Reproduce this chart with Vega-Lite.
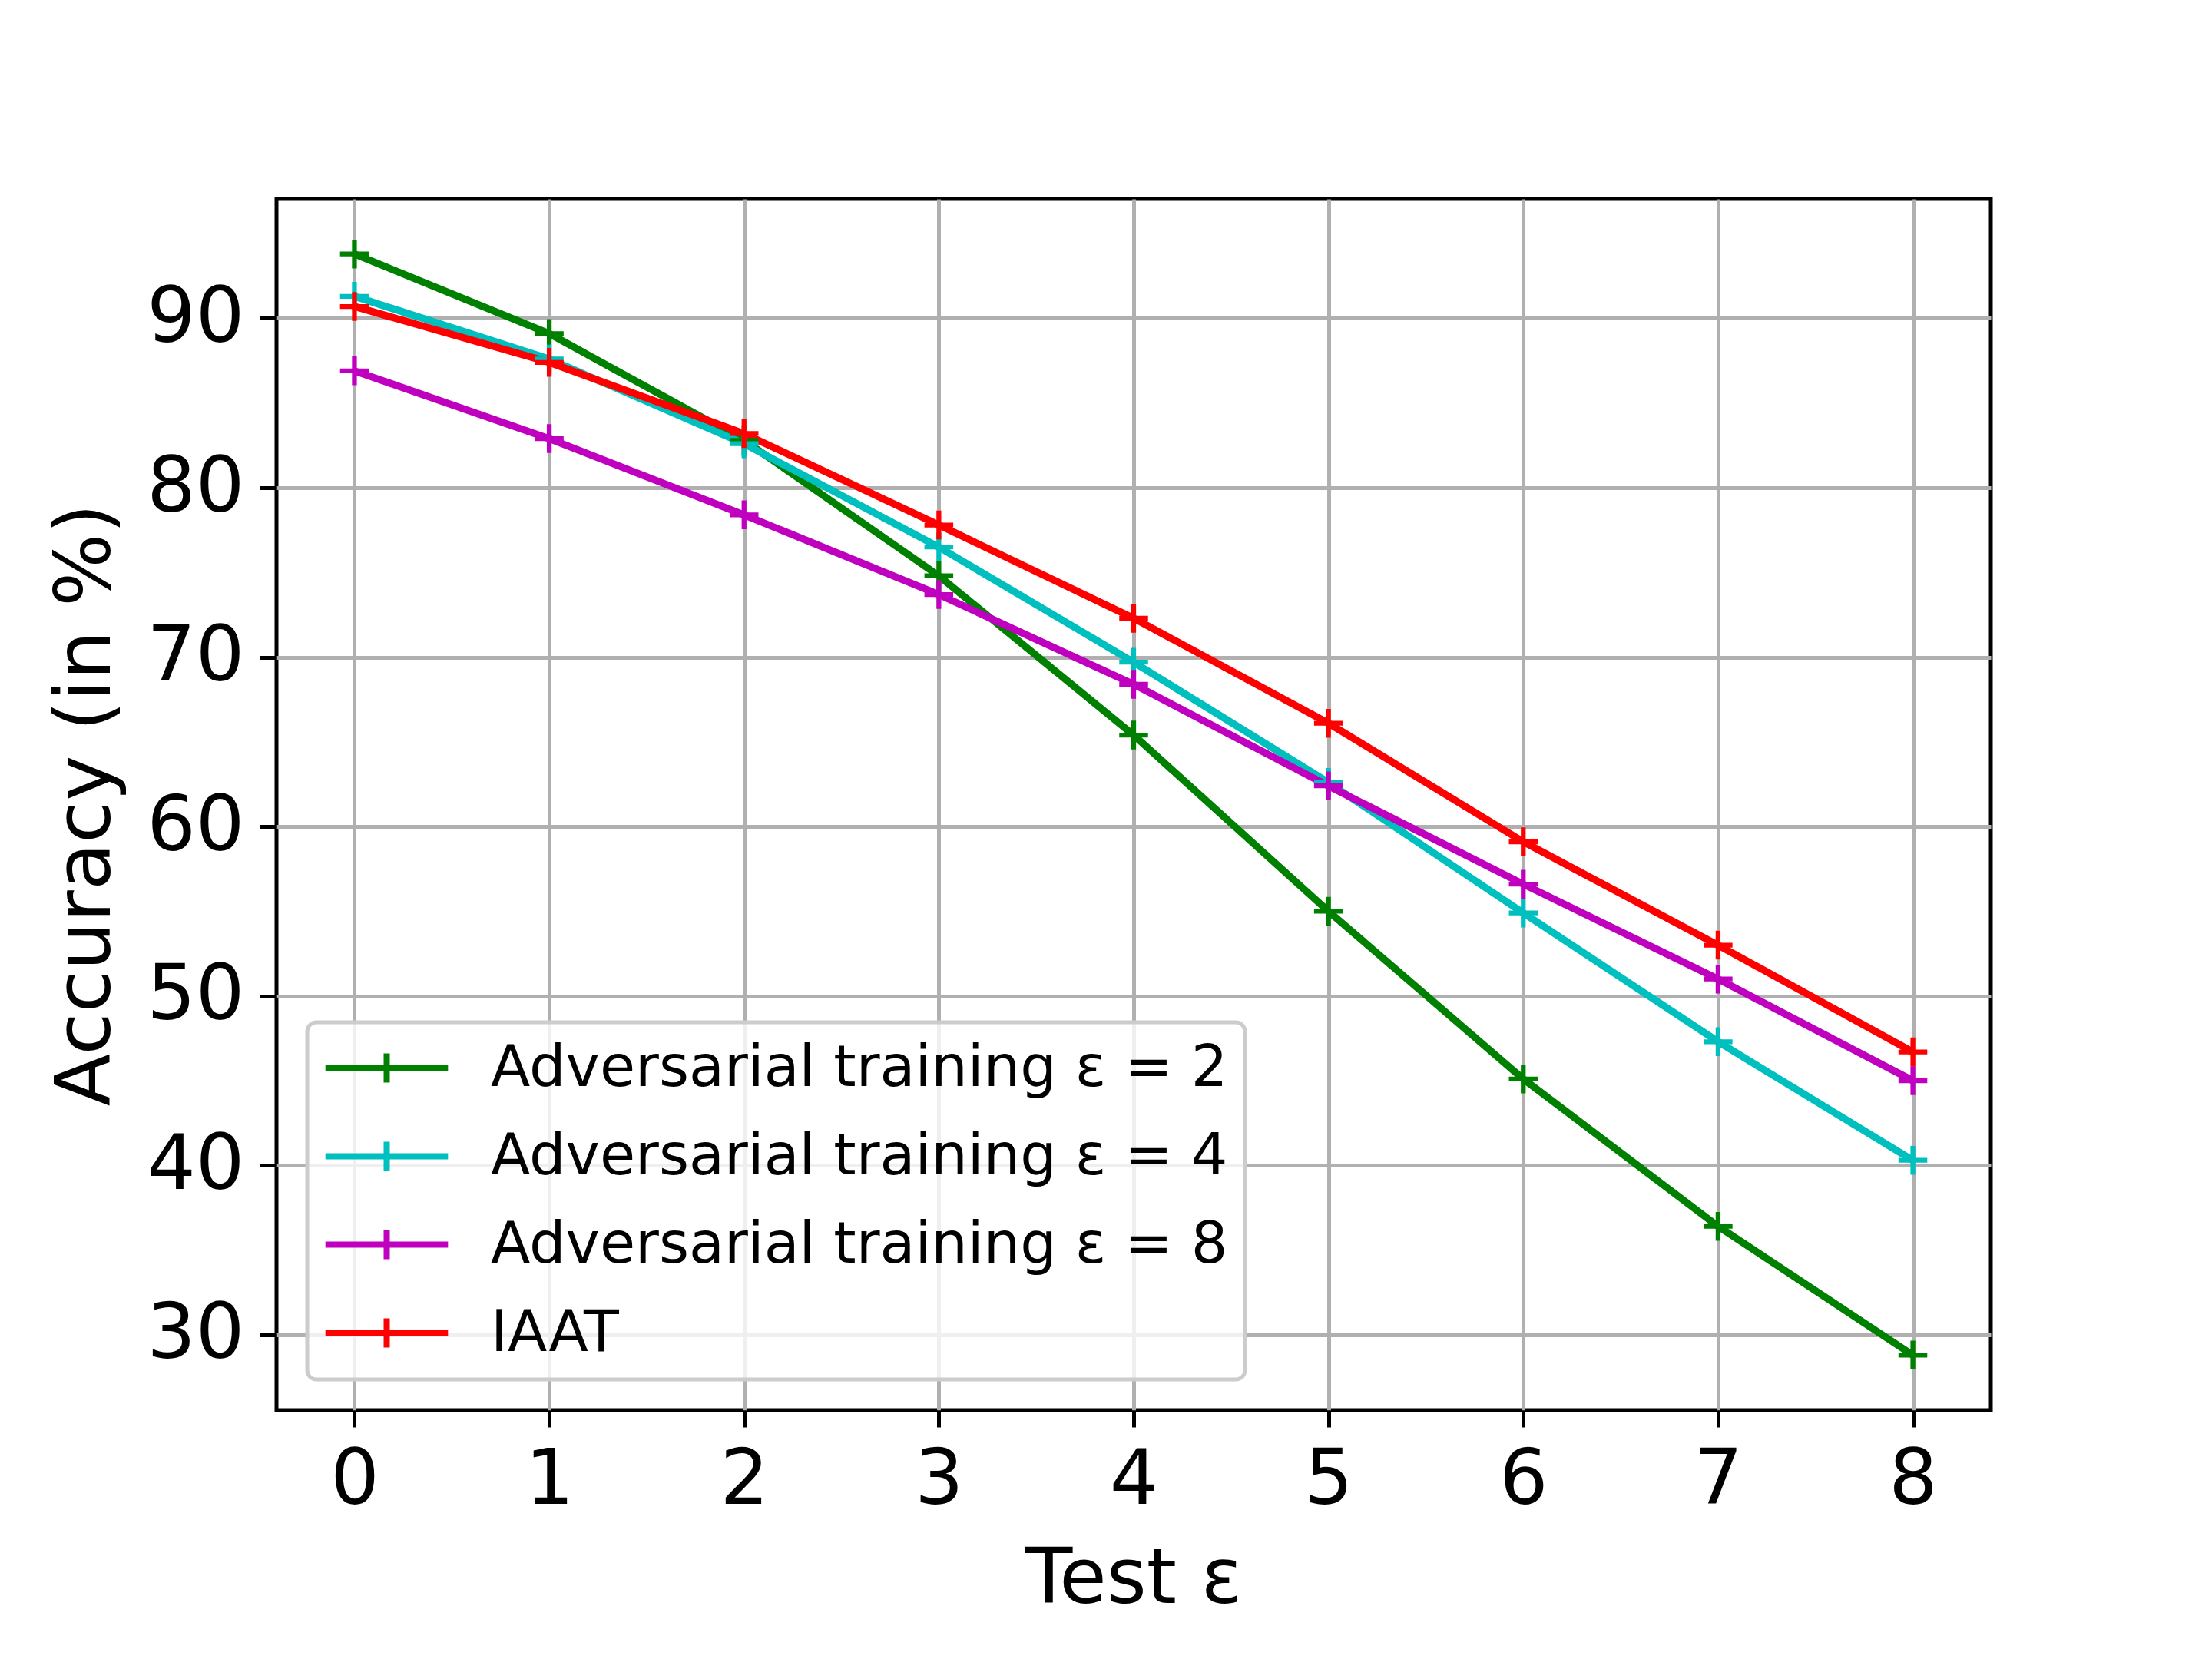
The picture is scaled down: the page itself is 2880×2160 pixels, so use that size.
{
  "$schema": "https://vega.github.io/schema/vega-lite/v6.json",
  "autosize": {"type": "none"},
  "padding": {"left": 360, "top": 259, "right": 288, "bottom": 324},
  "width": 2232,
  "height": 1577,
  "background": "white",
  "config": {
    "font": "DejaVu Sans",
    "view": {"stroke": "black", "strokeWidth": 5},
    "axis": {
      "domain": false,
      "grid": true,
      "gridColor": "#b0b0b0",
      "gridWidth": 5,
      "gridOpacity": 1,
      "ticks": true,
      "tickColor": "black",
      "tickSize": 22,
      "tickWidth": 5,
      "labelFont": "DejaVu Sans",
      "labelFontSize": 100,
      "labelColor": "black",
      "labelPadding": 20,
      "titleFont": "DejaVu Sans",
      "titleFontSize": 100,
      "titleFontWeight": "normal",
      "titleColor": "black"
    },
    "legend": {
      "labelFont": "DejaVu Sans",
      "labelFontSize": 75,
      "labelColor": "black",
      "labelLimit": 0,
      "symbolType": "M-4.2,0L4.2,0M0,-1L0,1",
      "symbolSize": 1444,
      "symbolStrokeWidth": 8,
      "symbolFillColor": "transparent",
      "symbolOffset": 44,
      "rowPadding": 39,
      "labelOffset": 98,
      "padding": 22,
      "fillColor": "rgba(255,255,255,0.8)",
      "strokeColor": "#cccccc",
      "strokeWidth": 5,
      "cornerRadius": 12
    }
  },
  "data": {
    "values": [
      {"eps": 0, "acc": 93.8, "model": "Adversarial training ε = 2"},
      {"eps": 1, "acc": 89.1, "model": "Adversarial training ε = 2"},
      {"eps": 2, "acc": 82.8, "model": "Adversarial training ε = 2"},
      {"eps": 3, "acc": 74.8, "model": "Adversarial training ε = 2"},
      {"eps": 4, "acc": 65.4, "model": "Adversarial training ε = 2"},
      {"eps": 5, "acc": 55.0, "model": "Adversarial training ε = 2"},
      {"eps": 6, "acc": 45.1, "model": "Adversarial training ε = 2"},
      {"eps": 7, "acc": 36.4, "model": "Adversarial training ε = 2"},
      {"eps": 8, "acc": 28.8, "model": "Adversarial training ε = 2"},
      {"eps": 0, "acc": 91.3, "model": "Adversarial training ε = 4"},
      {"eps": 1, "acc": 87.6, "model": "Adversarial training ε = 4"},
      {"eps": 2, "acc": 82.6, "model": "Adversarial training ε = 4"},
      {"eps": 3, "acc": 76.5, "model": "Adversarial training ε = 4"},
      {"eps": 4, "acc": 69.7, "model": "Adversarial training ε = 4"},
      {"eps": 5, "acc": 62.6, "model": "Adversarial training ε = 4"},
      {"eps": 6, "acc": 54.9, "model": "Adversarial training ε = 4"},
      {"eps": 7, "acc": 47.3, "model": "Adversarial training ε = 4"},
      {"eps": 8, "acc": 40.3, "model": "Adversarial training ε = 4"},
      {"eps": 0, "acc": 86.9, "model": "Adversarial training ε = 8"},
      {"eps": 1, "acc": 82.9, "model": "Adversarial training ε = 8"},
      {"eps": 2, "acc": 78.4, "model": "Adversarial training ε = 8"},
      {"eps": 3, "acc": 73.7, "model": "Adversarial training ε = 8"},
      {"eps": 4, "acc": 68.4, "model": "Adversarial training ε = 8"},
      {"eps": 5, "acc": 62.4, "model": "Adversarial training ε = 8"},
      {"eps": 6, "acc": 56.6, "model": "Adversarial training ε = 8"},
      {"eps": 7, "acc": 51.0, "model": "Adversarial training ε = 8"},
      {"eps": 8, "acc": 45.0, "model": "Adversarial training ε = 8"},
      {"eps": 0, "acc": 90.7, "model": "IAAT"},
      {"eps": 1, "acc": 87.4, "model": "IAAT"},
      {"eps": 2, "acc": 83.2, "model": "IAAT"},
      {"eps": 3, "acc": 77.8, "model": "IAAT"},
      {"eps": 4, "acc": 72.3, "model": "IAAT"},
      {"eps": 5, "acc": 66.1, "model": "IAAT"},
      {"eps": 6, "acc": 59.1, "model": "IAAT"},
      {"eps": 7, "acc": 53.0, "model": "IAAT"},
      {"eps": 8, "acc": 46.7, "model": "IAAT"}
    ]
  },
  "encoding": {
    "x": {
      "field": "eps",
      "type": "quantitative",
      "scale": {"domain": [-0.4, 8.4], "nice": false, "zero": false},
      "axis": {"values": [0, 1, 2, 3, 4, 5, 6, 7, 8], "title": "Test ε", "titlePadding": 30, "labelFlush": false}
    },
    "y": {
      "field": "acc",
      "type": "quantitative",
      "scale": {"domain": [25.55, 97.05], "nice": false, "zero": false},
      "axis": {"values": [30, 40, 50, 60, 70, 80, 90], "title": "Accuracy (in %)", "titlePadding": 27, "labelFlush": false}
    },
    "color": {
      "field": "model",
      "type": "nominal",
      "scale": {
        "domain": ["Adversarial training ε = 2", "Adversarial training ε = 4", "Adversarial training ε = 8", "IAAT"],
        "range": ["#008000", "#00bfbf", "#bf00bf", "#ff0000"]
      },
      "legend": {"title": null, "orient": "bottom-left", "offset": 40}
    }
  },
  "layer": [
    {"mark": {"type": "line", "strokeWidth": 9.4}},
    {"mark": {"type": "point", "shape": "M-1,0L1,0M0,-1L0,1", "size": 1406, "filled": false, "strokeWidth": 6.25, "opacity": 1}}
  ]
}
